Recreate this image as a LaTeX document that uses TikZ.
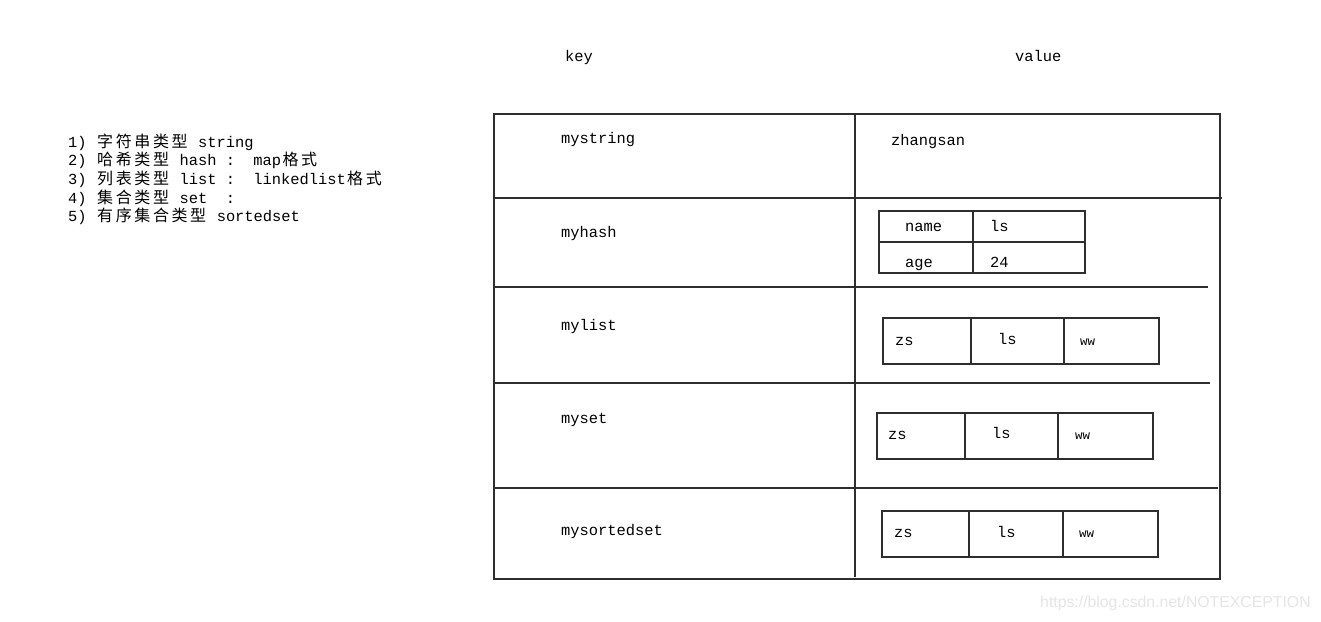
\documentclass[tikz,border=0pt]{standalone}
\usepackage{fontspec}
\setmainfont{Liberation Serif}
\setmonofont{Liberation Mono}
\newfontfamily\cjk{Noto Sans CJK SC}
\newfontfamily\wmfont{Liberation Sans}
\newcommand\zc[1]{\makebox[18.6pt]{\cjk\fontsize{16}{18}\selectfont #1}}
\begin{document}
\begin{tikzpicture}[x=1pt,y=-1pt,
  txt/.style={anchor=west, inner sep=0pt, yshift=-2pt, font=\ttfamily\fontsize{15.4}{18}\selectfont, text height=0.75em, text depth=0.25em},
  small/.style={txt, font=\ttfamily\fontsize{12.5}{15}\selectfont},
  ln/.style={line width=1.3pt, draw=black!82},
  cell/.style={line width=1.2pt, draw=black!82}]
\useasboundingbox[fill=white] (0,0) rectangle (1321,621);

% headers
\node[txt] (key) at (565,57) {key};
\node[txt] (value) at (1015,57) {value};

% left list
\node[txt] (l1) at (68,143) {1)~\zc{字}\zc{符}\zc{串}\zc{类}\zc{型}~string};
\node[txt] (l2) at (68,161) {2)~\zc{哈}\zc{希}\zc{类}\zc{型}~hash~:~~map\zc{格}\zc{式}};
\node[txt] (l3) at (68,180) {3)~\zc{列}\zc{表}\zc{类}\zc{型}~list~:~~linkedlist\zc{格}\zc{式}};
\node[txt] (l4) at (68,199) {4)~\zc{集}\zc{合}\zc{类}\zc{型}~set~~:};
\node[txt] (l5) at (68,217) {5)~\zc{有}\zc{序}\zc{集}\zc{合}\zc{类}\zc{型}~sortedset};

% main table
\draw[ln] (494,114) rectangle (1220,579);
\draw[ln] (855,114) -- (855,577);
\draw[ln] (494,198) -- (1222,198);
\draw[ln] (494,287) -- (1208,287);
\draw[ln] (494,383) -- (1210,383);
\draw[ln] (494,488) -- (1218,488);

% keys
\node[txt] (k1) at (561,139) {mystring};
\node[txt] (k2) at (561,233) {myhash};
\node[txt] (k3) at (561,326) {mylist};
\node[txt] (k4) at (561,419) {myset};
\node[txt] (k5) at (561,531) {mysortedset};

% string value
\node[txt] (v1) at (891,141) {zhangsan};

% hash value
\draw[cell] (879,211) rectangle (1085,273);
\draw[cell] (973,211) -- (973,273);
\draw[cell] (879,242) -- (1085,242);
\node[txt] (hn) at (905,227) {name};
\node[txt] (hv1) at (990,227) {ls};
\node[txt] (ha) at (905,263) {age};
\node[txt] (hv2) at (990,263) {24};

% list value
\draw[cell] (883,318) rectangle (1159,364);
\draw[cell] (971,318) -- (971,364);
\draw[cell] (1064,318) -- (1064,364);
\node[txt] (a1) at (895,341) {zs};
\node[txt] (a2) at (998,340) {ls};
\node[small] (a3) at (1080,341) {ww};

% set value
\draw[cell] (877,413) rectangle (1153,459);
\draw[cell] (965,413) -- (965,459);
\draw[cell] (1058,413) -- (1058,459);
\node[txt] (b1) at (888,435) {zs};
\node[txt] (b2) at (992,434) {ls};
\node[small] (b3) at (1075,435) {ww};

% sorted set value
\draw[cell] (882,511) rectangle (1158,557);
\draw[cell] (969,511) -- (969,557);
\draw[cell] (1063,511) -- (1063,557);
\node[txt] (c1) at (894,533) {zs};
\node[txt] (c2) at (997,533) {ls};
\node[small] (c3) at (1079,533) {ww};

% watermark
\node[anchor=west, inner sep=0pt, text=black!10, font=\wmfont\fontsize{15.8}{18}\selectfont] (wm) at (1040,603) {https://blog.csdn.net/NOTEXCEPTION};
\end{tikzpicture}
\end{document}
